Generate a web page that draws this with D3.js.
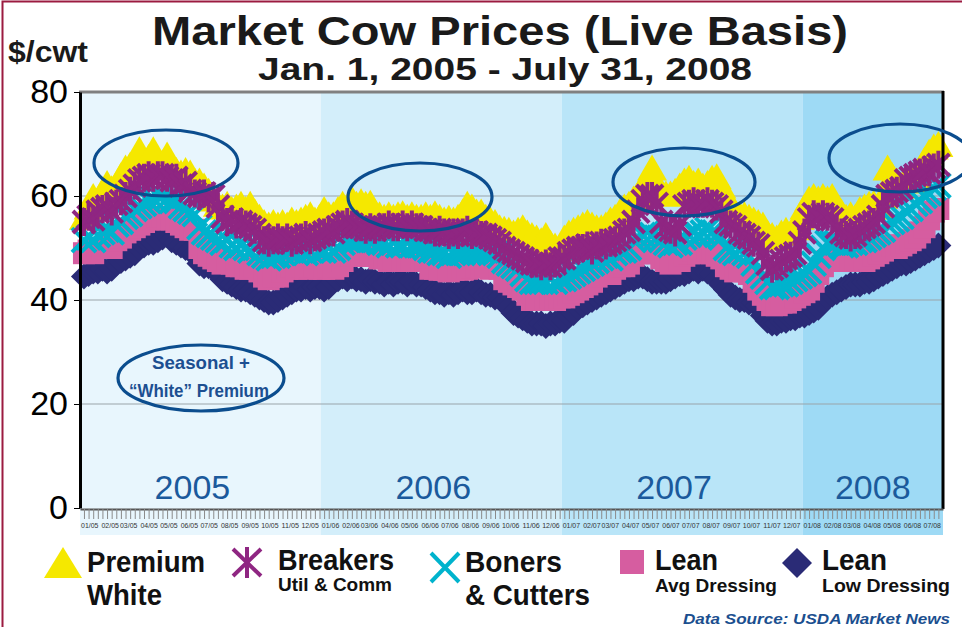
<!DOCTYPE html>
<html>
<head>
<meta charset="utf-8">
<script src="https://cdn.jsdelivr.net/npm/d3@7"></script>
<style>
  body { margin: 0; background: #fff; }
  svg { display: block; font-family: "Liberation Sans", Arial, sans-serif; }
</style>
</head>
<body>
<svg id="chart" width="962" height="627"></svg>
<script>
// ---- data: weekly live-basis prices ($/cwt), one inner array per month ----
const monthLabels = [
  '01/05','02/05','03/05','04/05','05/05','06/05','07/05','08/05','09/05','10/05','11/05','12/05',
  '01/06','02/06','03/06','04/06','05/06','06/06','07/06','08/06','09/06','10/06','11/06','12/06',
  '01/07','02/07','03/07','04/07','05/07','06/07','07/07','08/07','09/07','10/07','11/07','12/07',
  '01/08','02/08','03/08','04/08','05/08','06/08','07/08'
];
const yearLabels = ['2005', '2006', '2007', '2008'];
const yTicks = [0, 20, 40, 60, 80];

const premiumWhite = [
  [56,58,60,59],[61,62.5,61.5,62],[64,65.5,66,67],[69,67,67.5,69,67],[66.5,68,66,65],[64.5,65,64.5,63],
  [63,62,61,59.5,58.5],[58,58.5,57.5,58],[58.5,57.5,58.5,57,56],[55,54.5,55,54.5],[55,54.5,55.5,55],[55.5,56,56.5,55.5,56],
  [57.5,56.5,56.5,57.5],[58.5,58,59.5,58.5],[59,58.5,58.7,57,56.5],[56,56.5,56,56.5],[56.7,56,56.5,56],[56,56.5,56,56.7,56],
  [55.5,55.8,55.5,56],[57,58.5,58,57],[57,56,55.5,55,54],[53.7,53.5,53,53.5],[54,53,52.5,52],[51.5,52.5,51,50.5,50],
  [52,53,53.5,54],[54.5,55,54.5,54],[54,54.5,55.5,56,57],[58,58.5,59.5,60.5],[62,63.5,65.5,62],[61,60.5,60.5,61,62],
  [63,63.5,62.5,63],[62,62.5,63.5,63.8,62],[59,58.5,57,56.5],[56.5,56,55.5,55],[54.5,53,52.5,52,53],[53.5,53,54,56],
  [58,59.5,60,59.5],[60,59.5,60,58,57],[56,56.5,56,57.5],[58,58.5,58.7,58],[60,65.5,64,63,62],[63.5,63,64,63.5],
  [67,68.5,69.5,70]
];
const breakers = [
  [55,56,55.5,57],[57.5,58,57,58.5],[59,60,61,62],[63,63.5,64,63.5,64],[64,63.5,63,63.5],[62,62.5,61,60.5],
  [60,60.5,59.5,60,58],[56,55,55.5,54.5],[55,54.5,54,53.5,52.5],[51.5,51,51.5,52],[51.5,52,51,51.5],[52,52.5,51.5,52,52.5],
  [53,53.5,53,54],[54.5,55,54.5,54],[54,53.5,54,53.5,54],[54,54.5,54,54],[54.5,54,54.5,54],[54,53.5,53.5,53,53.5],
  [53,52.5,53,52.5],[53,53.5,52.5,53],[52.5,52.5,52,51.5,51],[50,49.5,49,48.5],[48,47.5,47,47],[46.5,47,46.5,47,48],
  [48,49,49.5,50],[50,50.5,49.5,50.5],[51,50.5,51,51.5,52],[53,53.5,55,57],[59,60,60,58.5],[55,54,53.5,53,54.5],
  [58,58.5,59,58.5],[58.5,59,58.5,58,57],[55,54.5,54,53],[52.5,52,51,50.5],[49,47,46,46.5,47.5],[48,48.5,49,51],
  [53,55.5,56.5,56],[56.5,56,55.5,54,53],[52.5,52,52.5,53.5],[54,54.5,55,56],[58,60,60.5,61,61.5],[63,63.5,64,64.5],
  [65,64.5,65.5,66]
];
const boners = [
  [51.5,52,51.5,52.5],[53,53.5,53,54.5],[55,56,56.5,57.5],[58,58.5,59,59.5,60],[60,59.5,59,59],[58,57.5,57,56.5],
  [54,53,52.5,52,51.5],[51,51.5,50.5,50],[50.5,50,49.5,50,49],[48.5,48,48.5,48.5],[49,49.5,49.5,49],[49.5,49,49.5,50,49.5],
  [49.5,50,49.5,50],[51,51.5,51.5,51.5],[51.5,52,51.5,51.5,51],[51,50.5,51,50.5],[50.5,51,50.5,50.5],[50.5,50,49.5,49.5,49],
  [49,48.5,49,49],[49,49.5,49.5,49.5],[49.5,49.5,49,49,48.5],[47.5,47,46.5,46],[45,44,43.5,43.5],[43.5,43.5,44,43.5,44],
  [44,44.5,45,45.5],[46,46.5,47,47.5],[48,48.5,48,49,49.5],[49.5,50,51.5,52],[52.5,53,52.5,52],[51.5,51,50.5,51,51],
  [52,52.5,53,52.5],[53,53.5,53,52.5,52],[50,49.5,49,49.5],[49,48.5,47,45.5],[44.5,43.5,42.5,42.5,43],[43,43.5,44,44.5],
  [45,45.5,47,48.5],[50,51,51,51,50.5],[50.5,51,51,51.5],[51.5,52,52.5,53],[53.5,54.5,55,55.5,56],[57,57.5,58.5,59],
  [60,60.5,61.5,62]
];
const leanAvg = [
  [49,49.5,49,50],[50,50.5,50,51.5],[52,53,53.5,54],[54.5,55,55.5,55.5,56],[56,55.5,55.5,55],[54.5,54,53.5,53.5],
  [50,49,48.5,48,47.5],[47,47.5,47,46.5],[46.5,46,46,46.5,45.5],[44.5,44,44.5,44.5],[45.5,46,46.5,46],[46.5,46,46.5,46.5,46],
  [46,46.5,46,46.5],[47.5,48.5,48.5,48.5],[48.5,48.7,48.5,48.5,48],[48,47.5,48,47.5],[47.5,47.7,47.5,47.5],[47.5,47.5,46,46,45.8],
  [45.8,45.5,45.8,46],[45.8,46,46.3,46.5],[46.3,46.5,46,46.3,46],[44,43.5,43,42.5],[42,41,40,40],[40,40,40.5,40,40.5],
  [40.5,41,41.5,42],[42.5,43,43.5,44.5],[45,45.5,45,46,46.5],[46.5,47,48.5,49],[49,49.5,49,49],[48,47.5,47,47.5,47.5],
  [48.5,49,49.5,49],[49,49.5,49,48.5,48],[46.5,46,45.5,46],[45.5,45,43.5,42],[41,40,39,39,39.5],[39.5,40,40.5,41],
  [41.5,42,43.5,45],[46.5,47.5,47.7,47.5,47.5],[47.5,47.7,47.5,47.7],[47.5,48,48.5,49],[49.5,50,50.5,50,50.5],[51,51.5,52,53],
  [54,55.5,57,57.5]
];
const leanLow = [
  [44.5,45,45.5,45.5],[46,45.5,46,47],[47.5,48,48.5,49],[50,50.5,51,51,51.5],[52,52.5,51.5,51],[50.5,50,49.5,49],
  [47,46.5,46.5,46,45.5],[44,43.5,43,42.5],[42,42,41.5,41,40.5],[40,39.5,39.5,40],[40.5,41,41.5,42],[42,42.5,42,42.5,42.5],
  [42,42.5,43.5,44],[44.5,44,44.5,44],[44,43.5,44,43.5,43.5],[43,43.5,43,43.5],[43.5,43,43.5,43],[43,42.5,42,41.5,41.5],
  [41,41.5,41,41.5],[42,41.5,41.5,42],[41.5,41,41,40.5,40.5],[39.5,38.5,37.5,37],[36.5,36,35.5,35.5],[35.5,35,35.5,35.5,36],
  [36,37,37.5,38.5],[39,39.5,40,40.5],[41,41.5,42,42.5,43],[43.5,44,44,44.5],[44.5,44,43.5,43.5],[43.5,43.5,44,44.5,45],
  [45,45.5,46,45.5],[46,45.5,45,44,43],[42,41,40.5,40],[40,39.5,39.5,39],[37,36,35.5,35.5,36],[36,36.5,36.5,37],
  [37,37.5,38,38.5],[39.5,40.5,41,41.5,42],[42.5,43,43,43],[43.5,43.5,44,44.5],[45,45.5,46,46.5,47],[47,47.5,48,48.5],
  [49,49.5,50,50.5]
];

// ---- setup ----
const parse = d3.timeParse('%Y-%m-%d');
const start = parse('2005-01-01'), end = parse('2008-08-01');
const svg = d3.select('#chart');

const x = d3.scaleTime().domain([start, end]).range([80, 943]);
const y = d3.scaleLinear().domain([0, 80]).range([508, 92]);

// weekly (Friday) report dates, grouped by month
const weeks = d3.timeFriday.range(start, end);
const weeksByMonth = d3.groups(weeks, d => d3.timeFormat('%Y-%m')(d)).map(g => g[1]);
const toPoints = series => series.flatMap((m, i) => m.map((v, j) => ({date: weeksByMonth[i][j], value: v})));

// frame
svg.append('path')
    .attr('d', 'M2.5,627V1.5H962')
    .attr('fill', 'none')
    .attr('stroke', '#9b1b40')
    .attr('stroke-width', 2);

// year bands
const bandColors = ['#e8f6fd', '#d3eefa', '#b9e5f8', '#9edaf5'];
const yearBounds = ['2005-01-01', '2006-01-01', '2007-01-01', '2008-01-01', '2008-08-01'].map(parse);
svg.append('g').selectAll('rect')
  .data(yearLabels)
  .join('rect')
    .attr('x', (d, i) => x(yearBounds[i]))
    .attr('width', (d, i) => x(yearBounds[i + 1]) - x(yearBounds[i]))
    .attr('y', 92)
    .attr('height', 443)
    .attr('fill', (d, i) => bandColors[i]);

// gridlines
svg.append('g').selectAll('line')
  .data([20, 40, 60])
  .join('line')
    .attr('x1', 80).attr('x2', 943)
    .attr('y1', d => y(d)).attr('y2', d => y(d))
    .attr('stroke', '#9aa4aa')
    .attr('stroke-width', 1.2);

// year labels
svg.append('g').selectAll('text')
  .data(yearLabels)
  .join('text')
    .attr('x', (d, i) => (x(yearBounds[i]) + x(yearBounds[i + 1])) / 2 - (i < 3 ? 8 : 0))
    .attr('y', 499)
    .attr('text-anchor', 'middle')
    .attr('font-size', 34)
    .attr('fill', '#1b5a9c')
    .text(d => d);

// ---- markers ----
const layer = svg.append('g');
function drawSeries(series, cls, draw) {
  const g = layer.append('g').attr('class', cls);
  g.selectAll('.m')
    .data(toPoints(series))
    .join(draw)
      .attr('class', 'm')
      .attr('transform', d => `translate(${x(d.date)},${y(d.value)})`);
}
drawSeries(premiumWhite, 'premium', e => e.append('path').attr('d', 'M0,-13L15,13L-15,13Z').attr('fill', '#f5e800'));
drawSeries(leanLow, 'lean-low', e => e.append('path').attr('d', 'M0,-13L13,0L0,13L-13,0Z').attr('fill', '#2a2b76'));
drawSeries(leanAvg, 'lean-avg', e => e.append('path').attr('d', 'M-11,-11H11V11H-11Z').attr('fill', '#d65da0'));
drawSeries(boners, 'boners', e => e.append('path').attr('d', 'M-12,-12L12,12M-12,12L12,-12')
  .attr('stroke', '#00b3cd').attr('stroke-width', 4).attr('fill', 'none'));
drawSeries(breakers, 'breakers', e => e.append('path').attr('d', 'M0,-14V14M-11,-11L11,11M-11,11L11,-11')
  .attr('stroke', '#8f2682').attr('stroke-width', 4).attr('fill', 'none'));

// plot frame lines
svg.append('line').attr('x1', 79).attr('x2', 944).attr('y1', 92).attr('y2', 92)
    .attr('stroke', '#808080').attr('stroke-width', 3);
svg.append('line').attr('x1', 943).attr('x2', 943).attr('y1', 91).attr('y2', 509)
    .attr('stroke', '#000').attr('stroke-width', 3);

// ---- axes ----
const yAxis = d3.axisLeft(y).tickValues(yTicks).tickSize(6).tickSizeOuter(0).tickPadding(6);
const yG = svg.append('g').attr('transform', 'translate(80,0)').call(yAxis);
yG.select('.domain').attr('stroke', '#000').attr('stroke-width', 3);
yG.selectAll('text').attr('font-size', 34).attr('fill', '#000').attr('font-family', '"Liberation Sans", Arial, sans-serif');

const xTicks = d3.axisBottom(x).tickValues(weeks).tickSize(10).tickSizeOuter(0).tickFormat('');
const xG = svg.append('g').attr('transform', 'translate(0,509)').call(xTicks);
xG.select('.domain').attr('stroke', '#555').attr('stroke-width', 2);
xG.selectAll('.tick line').attr('stroke', '#8a8a8a');

const midMonths = d3.timeMonth.range(start, end).map(m => d3.timeDay.offset(m, 14));
const xLabels = d3.axisBottom(x).tickValues(midMonths).tickSize(0).tickPadding(13)
    .tickFormat((d, i) => monthLabels[i]);
const xlG = svg.append('g').attr('transform', 'translate(0,510)').call(xLabels);
xlG.select('.domain').remove();
xlG.selectAll('text').attr('font-size', 7.4).attr('fill', '#333')
    .attr('textLength', 17.4).attr('lengthAdjust', 'spacingAndGlyphs')
    .attr('font-family', '"Liberation Sans", Arial, sans-serif');

// ---- annotation ellipses ----
const ovals = [[166, 163, 72, 33], [420, 197, 72, 34], [684, 182, 71, 34], [900, 158, 71, 34], [201, 378, 83, 33]];
svg.append('g').selectAll('ellipse')
  .data(ovals)
  .join('ellipse')
    .attr('cx', d => d[0]).attr('cy', d => d[1])
    .attr('rx', d => d[2]).attr('ry', d => d[3])
    .attr('fill', 'none')
    .attr('stroke', '#0b4d8e')
    .attr('stroke-width', 3.2);

svg.append('text').attr('x', 201).attr('y', 369).attr('text-anchor', 'middle')
    .attr('font-size', 19).attr('font-weight', 'bold').attr('fill', '#1c4f91')
    .attr('textLength', 98).attr('lengthAdjust', 'spacingAndGlyphs')
    .text('Seasonal +');
svg.append('text').attr('x', 199).attr('y', 397).attr('text-anchor', 'middle')
    .attr('font-size', 19).attr('font-weight', 'bold').attr('fill', '#1c4f91')
    .attr('textLength', 140).attr('lengthAdjust', 'spacingAndGlyphs')
    .text('\u201CWhite\u201D Premium');

// ---- titles ----
function label(txt, px, py, size, len, opts = {}) {
  const t = svg.append('text')
      .attr('x', px).attr('y', py)
      .attr('font-size', size)
      .attr('font-weight', opts.weight || 'bold')
      .attr('fill', opts.fill || '#111')
      .attr('text-anchor', opts.anchor || 'start')
      .text(txt);
  if (opts.italic) t.attr('font-style', 'italic');
  if (len) t.attr('textLength', len).attr('lengthAdjust', 'spacingAndGlyphs');
  return t;
}
label('Market Cow Prices (Live Basis)', 152, 45, 41, 696, {fill: '#1a1a1a'});
label('Jan. 1, 2005 - July 31, 2008', 258, 80, 32, 494, {fill: '#1a1a1a'});
label('$/cwt', 8, 62, 30, 80, {fill: '#1a1a1a'});

// ---- legend ----
const lg = svg.append('g');
lg.append('path').attr('d', 'M44,578L82,578L63,547Z').attr('fill', '#f5e800');
lg.append('path').attr('d', 'M247,547V578M233,549L261,576M233,576L261,549')
    .attr('stroke', '#8f2682').attr('stroke-width', 4).attr('fill', 'none');
lg.append('path').attr('d', 'M431,553L459,582M431,582L459,553')
    .attr('stroke', '#00b3cd').attr('stroke-width', 4).attr('fill', 'none');
lg.append('rect').attr('x', 620).attr('y', 550).attr('width', 24).attr('height', 24).attr('fill', '#d65da0');
lg.append('path').attr('d', 'M797,548L812,563L797,578L782,563Z').attr('fill', '#2a2b76');

label('Premium', 87, 572, 29, 118);
label('White', 87, 605, 29, 75);
label('Breakers', 278, 570, 29, 116);
label('Util & Comm', 278, 591, 18, 114);
label('Boners', 465, 572, 29, 97);
label('& Cutters', 465, 605, 29, 125);
label('Lean', 655, 570, 29, 63);
label('Avg Dressing', 655, 592, 18, 122);
label('Lean', 822, 570, 29, 65);
label('Low Dressing', 822, 592, 18, 128);
label('Data Source: USDA Market News', 950, 624, 15, 267, {anchor: 'end', italic: true, fill: '#1b4f8f'});
</script>
</body>
</html>
